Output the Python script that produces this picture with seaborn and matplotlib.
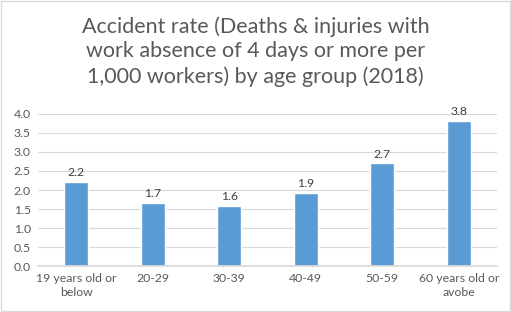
import matplotlib
matplotlib.use("Agg")
import matplotlib.pyplot as plt
import seaborn as sns
import pandas as pd

categories = ["19 years old or\nbelow", "20-29", "30-39", "40-49", "50-59", "60 years old or\navobe"]
values = [2.22, 1.66, 1.59, 1.93, 2.70, 3.81]
labels = ["2.2", "1.7", "1.6", "1.9", "2.7", "3.8"]
yticks = [0.0, 0.5, 1.0, 1.5, 2.0, 2.5, 3.0, 3.5, 4.0]
title = "Accident rate (Deaths & injuries with\nwork absence of 4 days or more per\n1,000 workers) by age group (2018)"

sns.set_theme(style="white")
plt.rcParams['font.family'] = ['Lato', 'DejaVu Sans']

df = pd.DataFrame({"cat": categories, "val": values})

fig = plt.figure(figsize=(5.11, 3.12), dpi=100)
fig.patch.set_facecolor("white")
ax = fig.add_axes([0.074, 0.147, 0.899, 0.488])
sns.barplot(data=df, x="cat", y="val", color="#5b9bd5", width=0.31, ax=ax, saturation=1)

ax.set_ylim(0, 4)
ax.set_yticks(yticks)
ax.set_yticklabels([f"{t:.1f}" for t in yticks])
ax.yaxis.grid(True, color="#d9d9d9", linewidth=0.8)
ax.set_axisbelow(True)
for s in ["top", "right", "left"]:
    ax.spines[s].set_visible(False)
ax.spines["bottom"].set_color("#d9d9d9")
ax.set_xlabel("")
ax.set_ylabel("")
ax.tick_params(axis="both", colors="#595959", labelsize=8.8, length=0, pad=5)
for t in ax.get_xticklabels():
    t.set_linespacing(1.35)
    t.set_multialignment("center")
ax.set_xlim(-0.5, 5.5)

for i, (v, l) in enumerate(zip(values, labels)):
    ax.text(i, v + 0.1, l, ha="center", va="bottom", fontsize=8.8, color="#404040")

fig.text(0.5, 0.948, title, ha="center", va="top", fontsize=15.5, color="#595959", linespacing=1.28)

border = plt.Rectangle((0.001, 0.002), 0.997, 0.995, transform=fig.transFigure, fill=False,
                       edgecolor="#d9d9d9", linewidth=1)
fig.patches.append(border)

fig.savefig("out.png", dpi=100)
